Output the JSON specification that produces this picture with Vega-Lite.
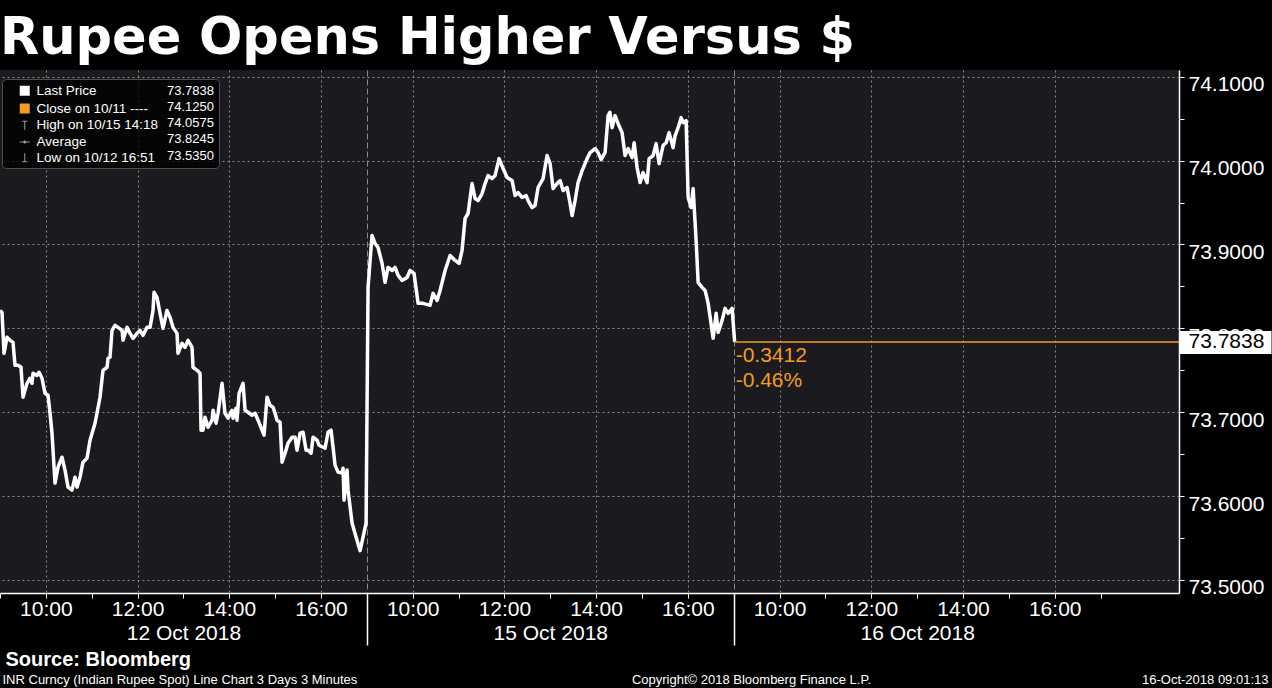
{
  "$schema": "https://vega.github.io/schema/vega-lite/v6.json",
  "width": 1179,
  "height": 523,
  "autosize": {"type": "none"},
  "padding": {"left": 0, "top": 70, "right": 93, "bottom": 95},
  "background": "#000000",
  "view": {"fill": "#1b1b1f", "stroke": null},
  "config": {
    "view": {"fill": "#1b1b1f", "stroke": null},
    "font": "Liberation Sans"
  },
  "title": {
    "text": "Rupee Opens Higher Versus $",
    "anchor": "start",
    "frame": "group",
    "font": "DejaVu Sans",
    "fontWeight": "bold",
    "fontSize": 51,
    "color": "#ffffff",
    "baseline": "alphabetic",
    "offset": -35,
    "dx": 0
  },
  "datasets": {
    "price": [
      {"t":0,"price":73.8214},{"t":0.044,"price":73.8190},{"t":0.087,"price":73.7702},{"t":0.153,"price":73.7893},{"t":0.218,"price":73.7857},{"t":0.284,"price":73.7833},{"t":0.327,"price":73.7560},{"t":0.393,"price":73.7560},{"t":0.458,"price":73.7536},{"t":0.502,"price":73.7179},{"t":0.589,"price":73.7345},{"t":0.654,"price":73.7405},{"t":0.698,"price":73.7345},{"t":0.720,"price":73.7464},{"t":0.807,"price":73.7440},{"t":0.851,"price":73.7476},{"t":0.916,"price":73.7405},{"t":0.981,"price":73.7226},{"t":1.047,"price":73.7202},{"t":1.091,"price":73.6988},{"t":1.134,"price":73.6750},{"t":1.200,"price":73.6155},{"t":1.265,"price":73.6345},{"t":1.352,"price":73.6464},{"t":1.418,"price":73.6310},{"t":1.483,"price":73.6107},{"t":1.570,"price":73.6071},{"t":1.636,"price":73.6226},{"t":1.679,"price":73.6107},{"t":1.745,"price":73.6226},{"t":1.810,"price":73.6405},{"t":1.897,"price":73.6452},{"t":1.963,"price":73.6667},{"t":2.072,"price":73.6869},{"t":2.181,"price":73.7179},{"t":2.246,"price":73.7500},{"t":2.334,"price":73.7536},{"t":2.356,"price":73.7643},{"t":2.399,"price":73.7655},{"t":2.443,"price":73.7976},{"t":2.508,"price":73.8036},{"t":2.574,"price":73.8012},{"t":2.661,"price":73.7976},{"t":2.683,"price":73.7857},{"t":2.770,"price":73.8012},{"t":2.835,"price":73.7940},{"t":2.901,"price":73.7881},{"t":2.988,"price":73.7940},{"t":3.053,"price":73.7976},{"t":3.119,"price":73.7917},{"t":3.206,"price":73.8012},{"t":3.272,"price":73.8012},{"t":3.337,"price":73.8214},{"t":3.359,"price":73.8429},{"t":3.424,"price":73.8369},{"t":3.490,"price":73.8179},{"t":3.555,"price":73.8000},{"t":3.642,"price":73.8214},{"t":3.708,"price":73.8131},{"t":3.773,"price":73.8012},{"t":3.860,"price":73.7940},{"t":3.882,"price":73.7702},{"t":3.969,"price":73.7821},{"t":4.035,"price":73.7774},{"t":4.100,"price":73.7857},{"t":4.188,"price":73.7774},{"t":4.209,"price":73.7536},{"t":4.297,"price":73.7500},{"t":4.362,"price":73.7464},{"t":4.384,"price":73.6786},{"t":4.427,"price":73.6786},{"t":4.471,"price":73.6940},{"t":4.537,"price":73.6821},{"t":4.624,"price":73.6905},{"t":4.646,"price":73.7024},{"t":4.711,"price":73.6869},{"t":4.755,"price":73.6988},{"t":4.842,"price":73.7345},{"t":4.907,"price":73.6988},{"t":4.973,"price":73.6929},{"t":5.060,"price":73.7024},{"t":5.082,"price":73.6929},{"t":5.147,"price":73.7048},{"t":5.169,"price":73.6905},{"t":5.213,"price":73.7226},{"t":5.300,"price":73.7345},{"t":5.344,"price":73.7024},{"t":5.409,"price":73.7000},{"t":5.496,"price":73.6964},{"t":5.562,"price":73.6988},{"t":5.627,"price":73.6905},{"t":5.714,"price":73.6786},{"t":5.758,"price":73.6726},{"t":5.823,"price":73.7179},{"t":5.889,"price":73.7083},{"t":5.954,"price":73.7060},{"t":5.998,"price":73.6988},{"t":6.041,"price":73.6905},{"t":6.107,"price":73.6881},{"t":6.150,"price":73.6405},{"t":6.216,"price":73.6512},{"t":6.281,"price":73.6631},{"t":6.369,"price":73.6702},{"t":6.434,"price":73.6702},{"t":6.478,"price":73.6548},{"t":6.543,"price":73.6750},{"t":6.609,"price":73.6762},{"t":6.674,"price":73.6548},{"t":6.718,"price":73.6548},{"t":6.783,"price":73.6512},{"t":6.827,"price":73.6702},{"t":6.914,"price":73.6667},{"t":6.957,"price":73.6607},{"t":7.045,"price":73.6583},{"t":7.088,"price":73.6571},{"t":7.154,"price":73.6762},{"t":7.219,"price":73.6786},{"t":7.263,"price":73.6583},{"t":7.306,"price":73.6369},{"t":7.372,"price":73.6286},{"t":7.459,"price":73.6274},{"t":7.481,"price":73.6333},{"t":7.503,"price":73.5952},{"t":7.568,"price":73.6310},{"t":7.590,"price":73.6071},{"t":7.677,"price":73.5679},{"t":7.764,"price":73.5512},{"t":7.852,"price":73.5350},{"t":7.917,"price":73.5512},{"t":7.983,"price":73.5679},
      {"t":8.026,"price":73.8488},{"t":8.113,"price":73.9107},{"t":8.179,"price":73.9012},{"t":8.244,"price":73.8964},{"t":8.332,"price":73.8774},{"t":8.397,"price":73.8548},{"t":8.462,"price":73.8726},{"t":8.550,"price":73.8690},{"t":8.615,"price":73.8726},{"t":8.681,"price":73.8631},{"t":8.768,"price":73.8571},{"t":8.877,"price":73.8607},{"t":8.942,"price":73.8690},{"t":9.029,"price":73.8655},{"t":9.117,"price":73.8298},{"t":9.226,"price":73.8298},{"t":9.378,"price":73.8274},{"t":9.444,"price":73.8417},{"t":9.531,"price":73.8333},{"t":9.597,"price":73.8452},{"t":9.706,"price":73.8690},{"t":9.815,"price":73.8869},{"t":9.924,"price":73.8810},{"t":10.011,"price":73.8774},{"t":10.076,"price":73.8929},{"t":10.142,"price":73.9310},{"t":10.207,"price":73.9369},{"t":10.294,"price":73.9726},{"t":10.360,"price":73.9548},{"t":10.425,"price":73.9524},{"t":10.513,"price":73.9607},{"t":10.578,"price":73.9726},{"t":10.643,"price":73.9821},{"t":10.731,"price":73.9786},{"t":10.796,"price":73.9821},{"t":10.883,"price":74.0024},{"t":10.971,"price":73.9905},{"t":11.058,"price":73.9798},{"t":11.167,"price":73.9762},{"t":11.232,"price":73.9583},{"t":11.298,"price":73.9619},{"t":11.385,"price":73.9560},{"t":11.472,"price":73.9583},{"t":11.516,"price":73.9524},{"t":11.603,"price":73.9440},{"t":11.668,"price":73.9464},{"t":11.734,"price":73.9679},{"t":11.843,"price":73.9786},{"t":11.930,"price":74.0060},{"t":11.996,"price":73.9964},{"t":12.061,"price":73.9667},{"t":12.148,"price":73.9726},{"t":12.214,"price":73.9762},{"t":12.279,"price":73.9643},{"t":12.366,"price":73.9679},{"t":12.432,"price":73.9488},{"t":12.475,"price":73.9345},{"t":12.541,"price":73.9524},{"t":12.606,"price":73.9738},{"t":12.694,"price":73.9881},{"t":12.803,"price":74.0024},{"t":12.868,"price":74.0095},{"t":12.977,"price":74.0143},{"t":13.043,"price":74.0095},{"t":13.108,"price":74.0012},{"t":13.195,"price":74.0095},{"t":13.261,"price":74.0536},{"t":13.300,"price":74.0575},{"t":13.348,"price":74.0393},{"t":13.413,"price":74.0536},{"t":13.479,"price":74.0440},{"t":13.566,"price":74.0333},{"t":13.631,"price":74.0060},{"t":13.697,"price":74.0143},{"t":13.784,"price":74.0036},{"t":13.828,"price":74.0214},{"t":13.893,"price":73.9917},{"t":13.959,"price":73.9738},{"t":14.024,"price":73.9857},{"t":14.111,"price":73.9738},{"t":14.155,"price":74.0024},{"t":14.242,"price":74.0060},{"t":14.308,"price":74.0202},{"t":14.373,"price":73.9964},{"t":14.460,"price":74.0179},{"t":14.526,"price":74.0214},{"t":14.591,"price":74.0333},{"t":14.678,"price":74.0155},{"t":14.722,"price":74.0298},{"t":14.788,"price":74.0393},{"t":14.853,"price":74.0512},{"t":14.896,"price":74.0452},{"t":14.962,"price":74.0476},{"t":15.006,"price":73.9560},{"t":15.071,"price":73.9440},{"t":15.115,"price":73.9667},{"t":15.180,"price":73.9048},{"t":15.224,"price":73.8548},{"t":15.311,"price":73.8488},{"t":15.376,"price":73.8452},{"t":15.442,"price":73.8298},{"t":15.551,"price":73.7881},{"t":15.616,"price":73.8179},{"t":15.660,"price":73.7952},{"t":15.747,"price":73.8095},{"t":15.812,"price":73.8238},{"t":15.878,"price":73.8179},{"t":15.965,"price":73.8238},{"t":16.02,"price":73.7838}
    ],
    "last": [{"t": 16.02, "price": 73.7838, "label": "-0.3412\n-0.46%"}],
    "legend": [
      {"name": "Last Price", "val": "73.7838"},
      {"name": "Close on 10/11 ----", "val": "74.1250"},
      {"name": "High on 10/15 14:18", "val": "74.0575"},
      {"name": "Average", "val": "73.8245"},
      {"name": "Low on 10/12 16:51", "val": "73.5350"}
    ]
  },
  "resolve": {"axis": {"x": "independent", "y": "independent"}},
  "layer": [
    {
      "data": {"name": "price"},
      "mark": {"type": "line", "color": "#ffffff", "strokeWidth": 3.5, "strokeJoin": "round"},
      "encoding": {
        "x": {
          "field": "t", "type": "quantitative",
          "scale": {"domain": [0, 25.71], "nice": false, "zero": false},
          "axis": {
            "orient": "bottom",
            "values": [0,1,2,3,4,5,6,7,8,9,10,11,12,13,14,15,16,17,18,19,20,21,22,23,24],
            "labelExpr": "(datum.value % 2 == 1) ? (9 + datum.value % 8) + ':00' : ''",
            "labelFont": "Liberation Sans", "labelFontSize": 21, "labelColor": "#ffffff",
            "labelBaseline": "top", "labelPadding": 0, "labelFlush": false, "labelOverlap": false,
            "domainColor": "#ffffff", "domainWidth": 1.5,
            "tickColor": "#ffffff",
            "tickSize": {"condition": {"test": "datum.value == 8 || datum.value == 16", "value": 52}, "value": 5},
            "tickWidth": {"condition": {"test": "datum.value == 8 || datum.value == 16", "value": 1.5}, "value": 1},
            "grid": true,
            "gridColor": "#8a8a8a",
            "gridOpacity": {"condition": {"test": "datum.value % 2 == 1 || datum.value == 8 || datum.value == 16", "value": 1}, "value": 0},
            "gridDash": {"condition": {"test": "datum.value == 8 || datum.value == 16", "value": [6, 3]}, "value": [2, 3]},
            "title": "INR Curncy (Indian Rupee Spot) Line Chart 3 Days 3 Minutes",
            "titleFont": "Liberation Sans", "titleFontSize": 13, "titleFontWeight": "normal", "titleColor": "#ffffff",
            "titleAnchor": "start", "titleAlign": "left", "titleBaseline": "middle", "titleX": 2, "titleY": 86
          }
        },
        "y": {
          "field": "price", "type": "quantitative",
          "scale": {"domain": [73.4845, 74.108], "nice": false, "zero": false},
          "axis": {
            "orient": "right",
            "values": [73.5,73.55,73.6,73.65,73.7,73.75,73.8,73.85,73.9,73.95,74.0,74.05,74.1],
            "labelExpr": "(round(datum.value * 20) % 2 == 0) ? format(datum.value, '.4f') : ''",
            "labelFont": "Liberation Sans", "labelFontSize": 21, "labelColor": "#ffffff",
            "labelBaseline": "top", "labelOffset": -3, "labelPadding": 4, "labelOverlap": false, "labelFlush": false,
            "domainColor": "#ffffff", "domainWidth": 1.5,
            "tickColor": "#ffffff", "tickSize": 5,
            "grid": true, "gridColor": "#8a8a8a", "gridDash": [2, 3],
            "gridOpacity": {"condition": {"test": "round(datum.value * 20) % 2 == 0", "value": 1}, "value": 0},
            "title": "16-Oct-2018 09:01:13",
            "titleFont": "Liberation Sans", "titleFontSize": 13, "titleFontWeight": "normal", "titleColor": "#ffffff",
            "titleAngle": 0, "titleAlign": "right", "titleBaseline": "middle", "titleX": 89, "titleY": 609
          }
        }
      }
    },
    {
      "data": {"name": "last"},
      "mark": {"type": "rule", "color": "#f39c1f", "strokeWidth": 1.5},
      "encoding": {
        "x": {
          "field": "t", "type": "quantitative",
          "axis": {
            "orient": "bottom",
            "values": [4, 12, 20],
            "labelExpr": "datum.value == 4 ? '12 Oct 2018' : datum.value == 12 ? '15 Oct 2018' : '16 Oct 2018'",
            "labelFont": "Liberation Sans", "labelFontSize": 21, "labelColor": "#ffffff",
            "labelBaseline": "top", "labelPadding": 29, "labelFlush": false, "labelOverlap": false,
            "ticks": false, "domain": false, "grid": false,
            "title": "Source: Bloomberg",
            "titleFont": "Liberation Sans", "titleFontSize": 20, "titleFontWeight": "bold", "titleColor": "#ffffff",
            "titleAnchor": "start", "titleAlign": "left", "titleBaseline": "middle", "titleX": 5, "titleY": 66
          }
        },
        "x2": {"value": "width"},
        "y": {
          "field": "price", "type": "quantitative",
          "axis": {
            "orient": "right",
            "values": [73.7838],
            "labelExpr": "format(datum.value, '.4f')",
            "labelFont": "Liberation Sans", "labelFontSize": 21, "labelColor": "#000000",
            "labelBaseline": "middle", "labelPadding": -83,
            "domain": false, "grid": false,
            "tickColor": "#ffffff", "tickSize": 92, "tickWidth": 23,
            "zindex": 3,
            "title": "Copyright© 2018 Bloomberg Finance L.P.",
            "titleFont": "Liberation Sans", "titleFontSize": 13, "titleFontWeight": "normal", "titleColor": "#ffffff",
            "titleAngle": 0, "titleAlign": "center", "titleBaseline": "middle", "titleX": -428, "titleY": 609
          }
        }
      }
    },
    {
      "data": {"name": "last"},
      "mark": {"type": "text", "color": "#f39c1f", "font": "Liberation Sans", "fontSize": 21, "align": "left", "baseline": "top", "dx": 1, "dy": 3, "lineBreak": "\n", "lineHeight": 25},
      "encoding": {
        "x": {"field": "t", "type": "quantitative", "axis": null},
        "y": {"field": "price", "type": "quantitative", "axis": null},
        "text": {"field": "label"}
      }
    },
    {
      "data": {"name": "legend"},
      "mark": {"type": "point", "filled": true, "opacity": 0},
      "encoding": {
        "color": {
          "field": "name", "type": "nominal",
          "scale": {"domain": ["Last Price", "Close on 10/11 ----", "High on 10/15 14:18", "Average", "Low on 10/12 16:51"], "range": ["#ffffff", "#f39c1f", "#9a9a9a", "#9a9a9a", "#9a9a9a"]},
          "legend": {
            "orient": "none", "legendX": 18, "legendY": 14, "title": null,
            "labelFont": "Liberation Sans", "labelFontSize": 13.5, "labelColor": "#ffffff",
            "symbolSize": 100, "labelOffset": 5, "rowPadding": 0.75, "padding": 0, "zindex": 2, "symbolOpacity": 1
          }
        },
        "shape": {
          "field": "name", "type": "nominal",
          "scale": {"domain": ["Last Price", "Close on 10/11 ----", "High on 10/15 14:18", "Average", "Low on 10/12 16:51"], "range": ["square", "square", "M-0.5,-0.9H0.5V-0.7H0.1V0.9H-0.1V-0.7H-0.5Z", "M-1,-0.08H1V0.08H-1Z M0.3,0A0.3,0.3 0 1,1 -0.3,0A0.3,0.3 0 1,1 0.3,0Z", "M-0.5,0.9H0.5V0.7H0.1V-0.9H-0.1V0.7H-0.5Z"]},
          "legend": {
            "orient": "none", "legendX": 18, "legendY": 14, "title": null,
            "labelFont": "Liberation Sans", "labelFontSize": 13.5, "labelColor": "#ffffff",
            "symbolSize": 100, "labelOffset": 5, "rowPadding": 0.75, "padding": 0, "zindex": 2, "symbolOpacity": 1
          }
        },
        "strokeDash": {
          "field": "val", "type": "nominal",
          "scale": {"domain": ["73.7838", "74.1250", "74.0575", "73.8245", "73.5350"]},
          "legend": {
            "orient": "none", "legendX": 2, "legendY": 9, "title": null,
            "labelFont": "Liberation Sans", "labelFontSize": 13, "labelColor": "#ffffff",
            "symbolSize": 100, "symbolOpacity": 0, "labelOffset": 147, "rowPadding": 2.25, "padding": 5,
            "fillColor": "rgba(0,0,0,0.8)", "strokeColor": "#505050", "cornerRadius": 4, "zindex": 1
          }
        }
      }
    }
  ]
}
